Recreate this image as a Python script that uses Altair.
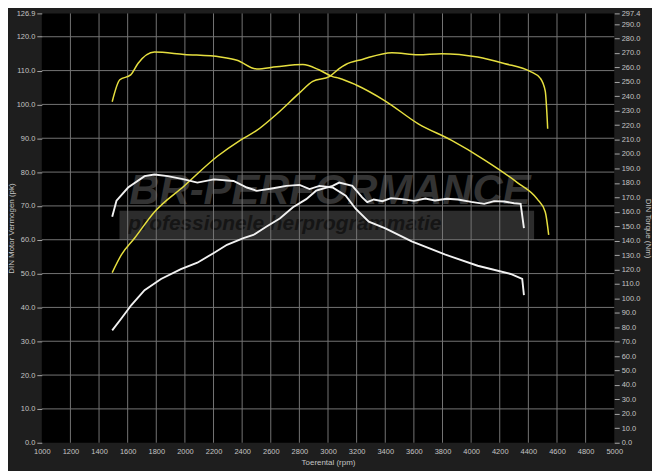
import altair as alt
import pandas as pd

# ---- data ----
# yellow (after) power, pk
yp_rpm = [1492, 1557, 1649, 1787, 1995, 2225, 2386, 2502, 2640, 2801, 2893, 3009,
          3078, 3124, 3239, 3447, 3631, 3792, 4046, 4231, 4415, 4484, 4518, 4535]
yp_val = [50.3, 55.6, 60.5, 68.2, 75.9, 84.6, 89.4, 92.3, 97.1, 103.4, 106.8, 108.2,
          110.6, 111.8, 113.3, 115.3, 114.7, 115.0, 114.0, 112.1, 109.7, 107.7, 103.9, 92.8]
# yellow torque, Nm
yt_rpm = [1492, 1545, 1621, 1672, 1787, 1995, 2248, 2364, 2502, 2640, 2824, 2940,
          3032, 3078, 3193, 3401, 3631, 3861, 4092, 4323, 4461, 4518, 4542]
yt_val = [236.2, 251.4, 254.8, 262.7, 270.6, 269.0, 267.2, 265.0, 258.9, 260.4, 262.0, 258.2,
          253.6, 252.5, 248.0, 236.7, 220.9, 209.6, 196.0, 180.2, 168.9, 159.9, 144.0]
# white (stock) power, pk
wp_rpm = [1492, 1557, 1626, 1718, 1833, 1972, 2087, 2202, 2294, 2409, 2478, 2571, 2663,
          2755, 2848, 2917, 3032, 3078, 3170, 3239, 3274, 3320, 3380, 3440, 3516, 3600,
          3680, 3747, 3830, 3908, 4000, 4092, 4160, 4231, 4300, 4346, 4369]
wp_val = [33.2, 36.8, 40.7, 45.1, 48.4, 51.3, 53.2, 56.1, 58.5, 60.5, 61.4, 63.9, 66.3,
          69.6, 72.0, 74.5, 75.9, 76.9, 75.9, 72.5, 71.1, 71.9, 71.4, 72.3, 72.0, 71.5,
          72.2, 71.6, 72.1, 71.9, 71.2, 70.6, 71.4, 71.3, 70.8, 70.6, 63.4]
# white torque, Nm
wt_rpm = [1492, 1522, 1603, 1718, 1787, 1880, 1995, 2087, 2202, 2340, 2433, 2502, 2617,
          2709, 2801, 2871, 2940, 3032, 3124, 3193, 3285, 3401, 3585, 3816, 4046, 4276,
          4357, 4369]
wt_val = [156.5, 167.7, 176.8, 184.7, 185.8, 184.7, 182.4, 180.2, 182.4, 181.3, 176.8, 174.5,
          176.3, 177.9, 178.6, 175.7, 177.9, 176.8, 171.1, 162.1, 153.1, 148.5, 139.5, 130.4,
          122.6, 116.9, 113.5, 102.2]

x_ticks = list(range(1000, 5001, 200))
left_ticks = [float(v) for v in range(0, 121, 10)] + [126.9]
right_ticks = [float(v) for v in range(0, 291, 10)] + [297.4]
grid_x = list(range(1200, 4801, 200))
grid_y = list(range(10, 121, 10))

TXT = "#c4c4c4"
FONT = "Liberation Sans"
YELLOW = "#e6df3f"
WHITE = "#f2f2f2"

def frame(rpm, val):
    return pd.DataFrame({"rpm": rpm, "v": val})

x_scale = alt.Scale(domain=[1000, 5000], nice=False, zero=False)
yl_scale = alt.Scale(domain=[0, 126.9], nice=False)
yr_scale = alt.Scale(domain=[0, 297.4], nice=False)

x_axis = alt.Axis(values=x_ticks, format="d", title="Toerental (rpm)", grid=False,
                  ticks=False, domain=False, labelPadding=5, labelFlush=False,
                  titleY=20, titleBaseline="middle")
X = alt.X("rpm:Q", scale=x_scale, axis=x_axis)

yl_axis = alt.Axis(values=left_ticks, format=".1f", title="DIN Motor Vermogen (pk)",
                   grid=False, domain=False, tickSize=5, labelPadding=2,
                   labelOverlap=False, labelFlush=False, tickColor="#a8a8a8",
                   titleX=-30, titleY=216, titleAngle=270, titleAlign="center",
                   titleBaseline="middle")
YL = alt.Y("v:Q", scale=yl_scale, axis=yl_axis)

yr_axis = alt.Axis(values=right_ticks, format=".1f", title="DIN Torque (Nm)",
                   orient="right", grid=False, domain=False, tickSize=5, labelPadding=2,
                   labelOverlap=False, labelFlush=False, tickColor="#a8a8a8",
                   titleX=33, titleY=216, titleAngle=90, titleAlign="center",
                   titleBaseline="middle")
YR = alt.Y("v:Q", scale=yr_scale, axis=yr_axis)

# watermark
band = alt.Chart(pd.DataFrame({"rpm": [1543], "rpm2": [4440], "v": [59.9], "v2": [68.6]})).mark_rect(
    color="#2c2c2c").encode(x=X, x2="rpm2:Q", y=YL, y2="v2:Q")
brand = alt.Chart(pd.DataFrame({"rpm": [1612], "v": [70.6], "t": ["BR-PERFORMANCE"]})).mark_text(
    align="left", baseline="alphabetic", font=FONT, fontSize=42, fontWeight="bold",
    fontStyle="italic", color="#333333").encode(x=X, y=YL, text="t:N")
slogan = alt.Chart(pd.DataFrame({"rpm": [1605], "v": [62.8], "t": ["professionele herprogrammatie"]})).mark_text(
    align="left", baseline="alphabetic", font=FONT, fontSize=21, fontWeight="bold",
    fontStyle="italic", color="#151515").encode(x=X, y=YL, text="t:N")

vgrid = alt.Chart(pd.DataFrame({"rpm": grid_x})).mark_rule(color="#747474", strokeWidth=1).encode(x=X)
hgrid = alt.Chart(pd.DataFrame({"v": grid_y})).mark_rule(color="#747474", strokeWidth=1).encode(y=YL)

yp = alt.Chart(frame(yp_rpm, yp_val)).mark_line(color=YELLOW, strokeWidth=1.5, interpolate="monotone").encode(x=X, y=YL)
wp = alt.Chart(frame(wp_rpm, wp_val)).mark_line(color=WHITE, strokeWidth=1.9).encode(x=X, y=YL)
yt = alt.Chart(frame(yt_rpm, yt_val)).mark_line(color=YELLOW, strokeWidth=1.5, interpolate="monotone").encode(x=X, y=YR)
wt = alt.Chart(frame(wt_rpm, wt_val)).mark_line(color=WHITE, strokeWidth=1.9).encode(x=X, y=YR)

left = alt.layer(band, brand, slogan, vgrid, hgrid, yp, wp)
right = alt.layer(yt, wt)

chart = alt.layer(left, right).resolve_scale(y="independent").properties(
    width=576, height=432,
    autosize=alt.AutoSizeParams(type="none"),
    padding={"left": 34, "top": 4, "right": 38, "bottom": 27},
    background="#1e1e1e",
).configure_view(fill="black", strokeWidth=0).configure_axis(
    labelColor=TXT, labelFont=FONT, labelFontSize=7.5,
    titleColor=TXT, titleFont=FONT, titleFontSize=8, titleFontWeight="normal",
)

chart.save("out.html", embed_options={"renderer": "svg", "actions": False})
